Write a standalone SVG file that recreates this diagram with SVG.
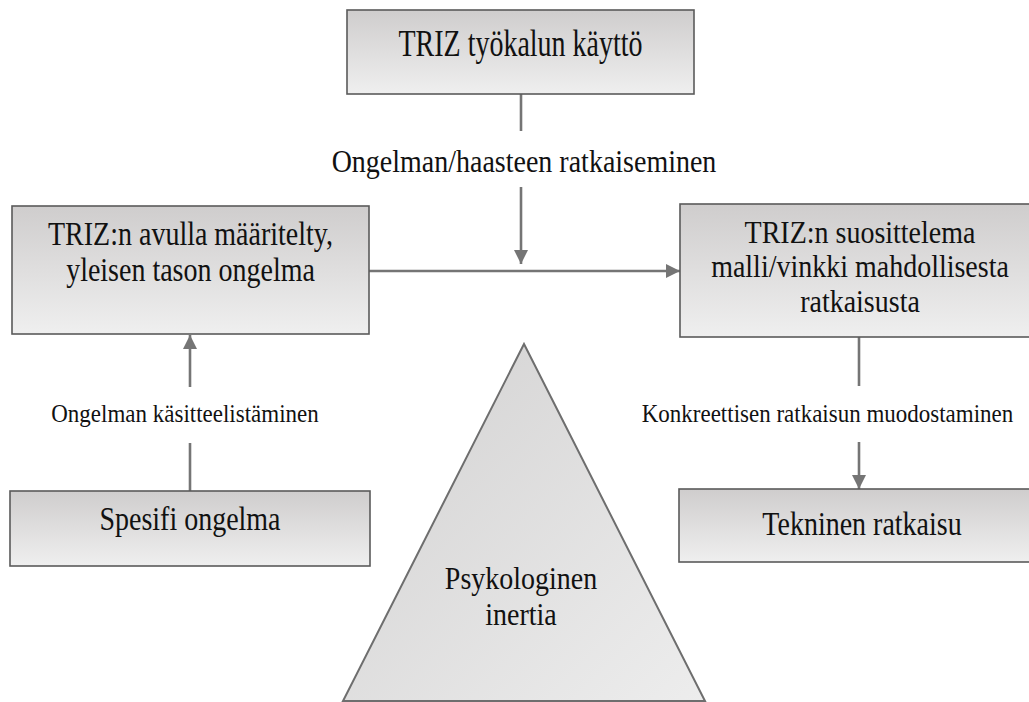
<svg xmlns="http://www.w3.org/2000/svg" width="1029" height="702" viewBox="0 0 1029 702">
<style>
.box{fill:url(#bg);stroke:#5a5a5a;stroke-width:1.6}
.tri{fill:url(#tg);stroke:#6e6e6e;stroke-width:2}
.con{stroke:#757575;stroke-width:2.6;fill:none}
</style>
<defs>
<linearGradient id="bg" x1="0" y1="0" x2="0" y2="1">
<stop offset="0" stop-color="#cfcdcd"/>
<stop offset="1" stop-color="#efefef"/>
</linearGradient>
<linearGradient id="tg" x1="0" y1="0" x2="1" y2="1">
<stop offset="0" stop-color="#d2d1d1"/>
<stop offset="1" stop-color="#ededed"/>
</linearGradient>
<marker id="ah" viewBox="0 0 14 14" markerWidth="14" markerHeight="14" refX="14" refY="7" orient="auto" markerUnits="userSpaceOnUse">
<path d="M0,0 L14,7 L0,14 z" fill="#757575"/>
</marker>
</defs>
<g id="connectors" font-family="Liberation Serif, serif" fill="#111" text-anchor="middle">
<line class="con" x1="521" y1="94" x2="521" y2="131"/>
<line class="con" x1="521" y1="187" x2="521" y2="264" marker-end="url(#ah)"/>
<line class="con" x1="369" y1="271" x2="680" y2="271" marker-end="url(#ah)"/>
<line class="con" x1="190" y1="491" x2="190" y2="443"/>
<line class="con" x1="190" y1="387" x2="190" y2="335" marker-end="url(#ah)"/>
<line class="con" x1="859" y1="337" x2="859" y2="386"/>
<line class="con" x1="859" y1="442" x2="859" y2="489" marker-end="url(#ah)"/>
<text font-size="28" transform="translate(524,172) scale(1,1.12)">Ongelman/haasteen ratkaiseminen</text>
<text font-size="23" transform="translate(185,422) scale(1,1.12)">Ongelman käsitteelistäminen</text>
<text font-size="23" transform="translate(827.5,422) scale(1,1.12)">Konkreettisen ratkaisun muodostaminen</text>
</g>
<g font-family="Liberation Serif, serif" font-size="28" fill="#111" text-anchor="middle">
<g id="n-top">
<rect class="box" x="347" y="10" width="347" height="84"/>
<text transform="translate(520.5,56) scale(1,1.32)">TRIZ työkalun käyttö</text>
</g>
<g id="n-left">
<rect class="box" x="12" y="206" width="357" height="128"/>
<text transform="translate(190.5,245) scale(1,1.22)">TRIZ:n avulla määritelty,</text>
<text transform="translate(190.5,281) scale(1,1.22)">yleisen tason ongelma</text>
</g>
<g id="n-right">
<rect class="box" x="680" y="204" width="365" height="133"/>
<text transform="translate(860,243) scale(1,1.15)">TRIZ:n suosittelema</text>
<text transform="translate(860,277) scale(1,1.15)">malli/vinkki mahdollisesta</text>
<text transform="translate(860,312) scale(1,1.15)">ratkaisusta</text>
</g>
<g id="n-spesifi">
<rect class="box" x="10" y="491" width="360" height="75"/>
<text transform="translate(190,530) scale(1,1.2)">Spesifi ongelma</text>
</g>
<g id="n-tekninen">
<rect class="box" x="679" y="489" width="366" height="73"/>
<text transform="translate(862,535) scale(1,1.2)">Tekninen ratkaisu</text>
</g>
<g id="n-inertia">
<polygon class="tri" points="524,344 705,701 343,701"/>
<text transform="translate(521,589) scale(1,1.15)">Psykologinen</text>
<text transform="translate(521,625) scale(1,1.15)">inertia</text>
</g>
</g>
</svg>
